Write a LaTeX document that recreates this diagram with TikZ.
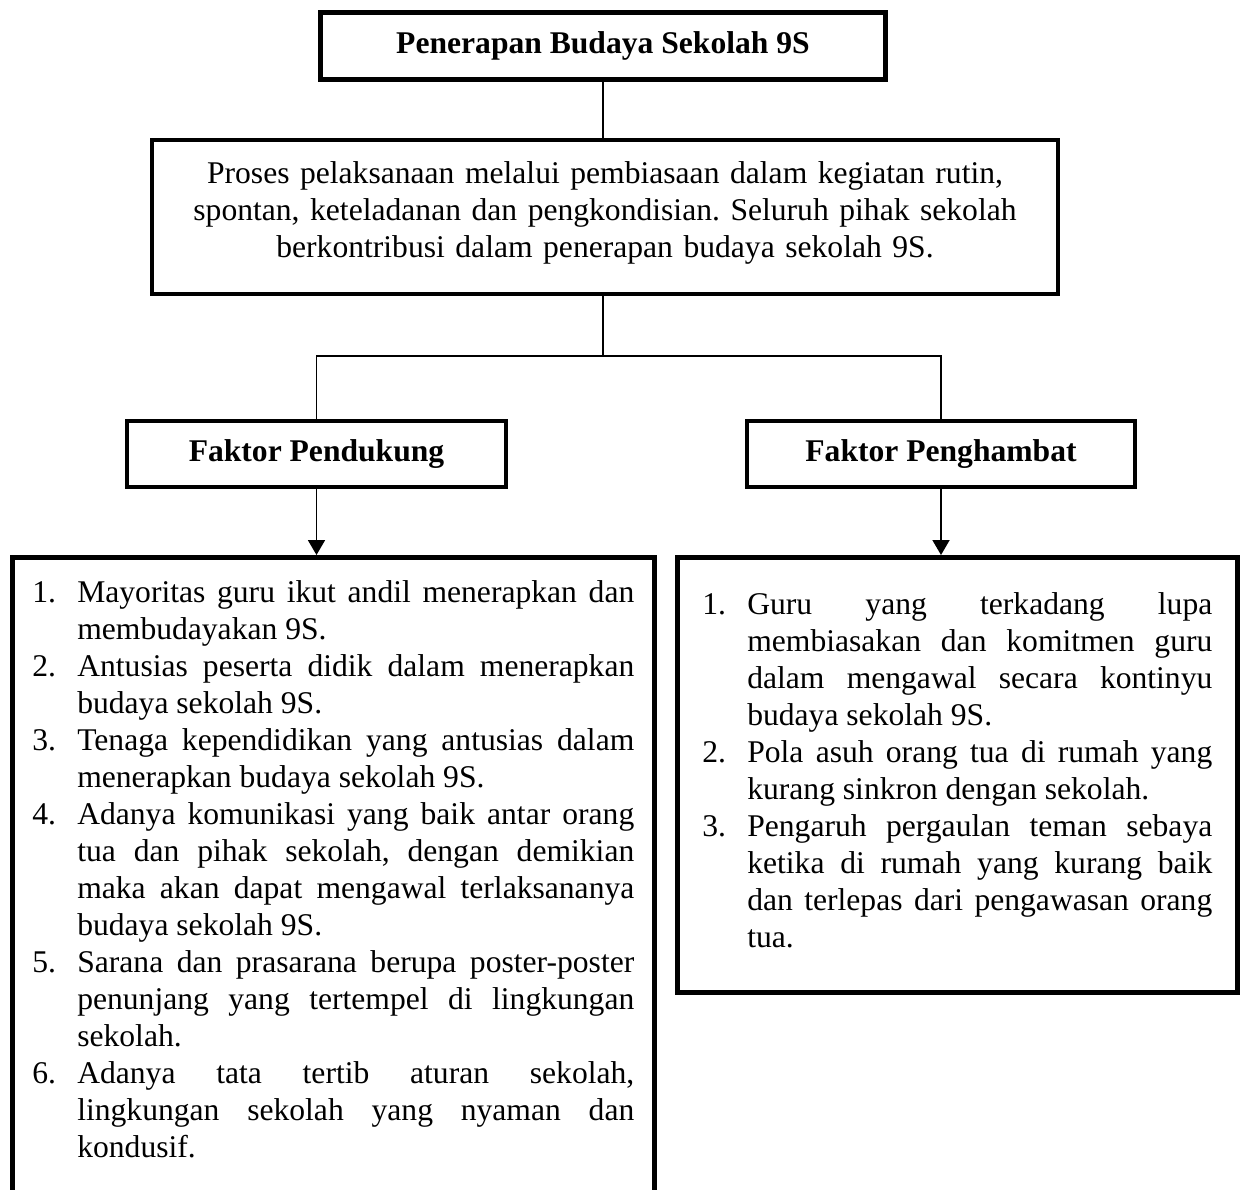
\documentclass[tikz,border=0pt]{standalone}
\usepackage{fontspec}
\setmainfont{Liberation Serif}
\usetikzlibrary{arrows.meta}

\newcommand{\teks}{\fontsize{15.8}{18.5}\selectfont\frenchspacing\hyphenpenalty=10000\exhyphenpenalty=10000}
\newcommand{\judul}{\fontsize{15.8}{18.5}\selectfont\bfseries}
\newcommand{\butir}[2]{\par\hangindent=22.5pt\hangafter=1\noindent\makebox[22.5pt][l]{#1}#2}

\begin{document}
\begin{tikzpicture}[x=0.5pt, y=-0.5pt,
		kotak/.style={draw, line width=2.3pt, inner sep=0pt},
		daftar/.style={draw, line width=2.3pt, anchor=north west, align=justify, font=\teks},
		garis/.style={line width=0.9pt},
		panah/.style={line width=0.9pt, -{Triangle[width=8.5pt,length=7.5pt]}}]
		
		% Frame
		\useasboundingbox (0,0) rectangle (1240,1189);
		\clip (0,0) rectangle (1240,1189);
		
		% Boxes
		\node[kotak, minimum width=282.5pt, minimum height=33.5pt, font=\judul] (judul) at (603,46) {Penerapan Budaya Sekolah 9S};
		\node[kotak, minimum width=453pt, minimum height=77pt, text width=445pt, align=center, font=\teks] (proses) at (605,217)
		{Proses pelaksanaan melalui pembiasaan dalam kegiatan rutin,\\ spontan, keteladanan dan pengkondisian. Seluruh pihak sekolah\\ berkontribusi dalam penerapan budaya sekolah 9S.\vspace*{4pt}};
		\node[kotak, minimum width=189.5pt, minimum height=33pt, font=\judul] (pendukung) at (316.5,454) {Faktor Pendukung};
		\node[kotak, minimum width=194pt, minimum height=33pt, font=\judul] (penghambat) at (941,454) {Faktor Penghambat};
		
		% Lists
		\node[daftar, text width=301pt, inner xsep=10pt, inner ysep=4pt] (listPendukung) at (10,555) {%
			\butir{1.}{Mayoritas guru ikut andil menerapkan dan\linebreak membudayakan 9S.}
			\butir{2.}{Antusias peserta didik dalam menerapkan\linebreak budaya sekolah 9S.}
			\butir{3.}{Tenaga kependidikan yang antusias dalam\linebreak menerapkan budaya sekolah 9S.}
			\butir{4.}{Adanya komunikasi yang baik antar orang\linebreak tua dan pihak sekolah, dengan demikian\linebreak maka akan dapat mengawal terlaksananya\linebreak budaya sekolah 9S.}
			\butir{5.}{Sarana dan prasarana berupa poster-poster\linebreak penunjang yang tertempel di lingkungan\linebreak sekolah.}
			\butir{6.}{Adanya tata tertib aturan sekolah,\linebreak lingkungan sekolah yang nyaman dan\linebreak kondusif.}
			\par\kern40pt};
		\node[daftar, text width=255pt, inner xsep=12.5pt, inner ysep=10pt] (listPenghambat) at (675,555) {%
			\butir{1.}{Guru yang terkadang lupa\linebreak membiasakan dan komitmen guru\linebreak dalam mengawal secara kontinyu\linebreak budaya sekolah 9S.}
			\butir{2.}{Pola asuh orang tua di rumah yang\linebreak kurang sinkron dengan sekolah.}
			\butir{3.}{Pengaruh pergaulan teman sebaya\linebreak ketika di rumah yang kurang baik\linebreak dan terlepas dari pengawasan orang\linebreak tua.}
			\par\kern12.5pt};
		
		% Connectors
		\coordinate (cabang) at (603,356);
		\draw[garis] (judul) -- (judul |- proses.north);
		\draw[garis] (judul |- proses.south) -- (cabang);
		\draw[garis] (pendukung.north) |- (cabang) -| (penghambat.north);
		\draw[panah] (pendukung.south) -- (pendukung.south |- listPendukung.north);
		\draw[panah] (penghambat.south) -- (penghambat.south |- listPenghambat.north);
		\end{tikzpicture}
\end{document}
